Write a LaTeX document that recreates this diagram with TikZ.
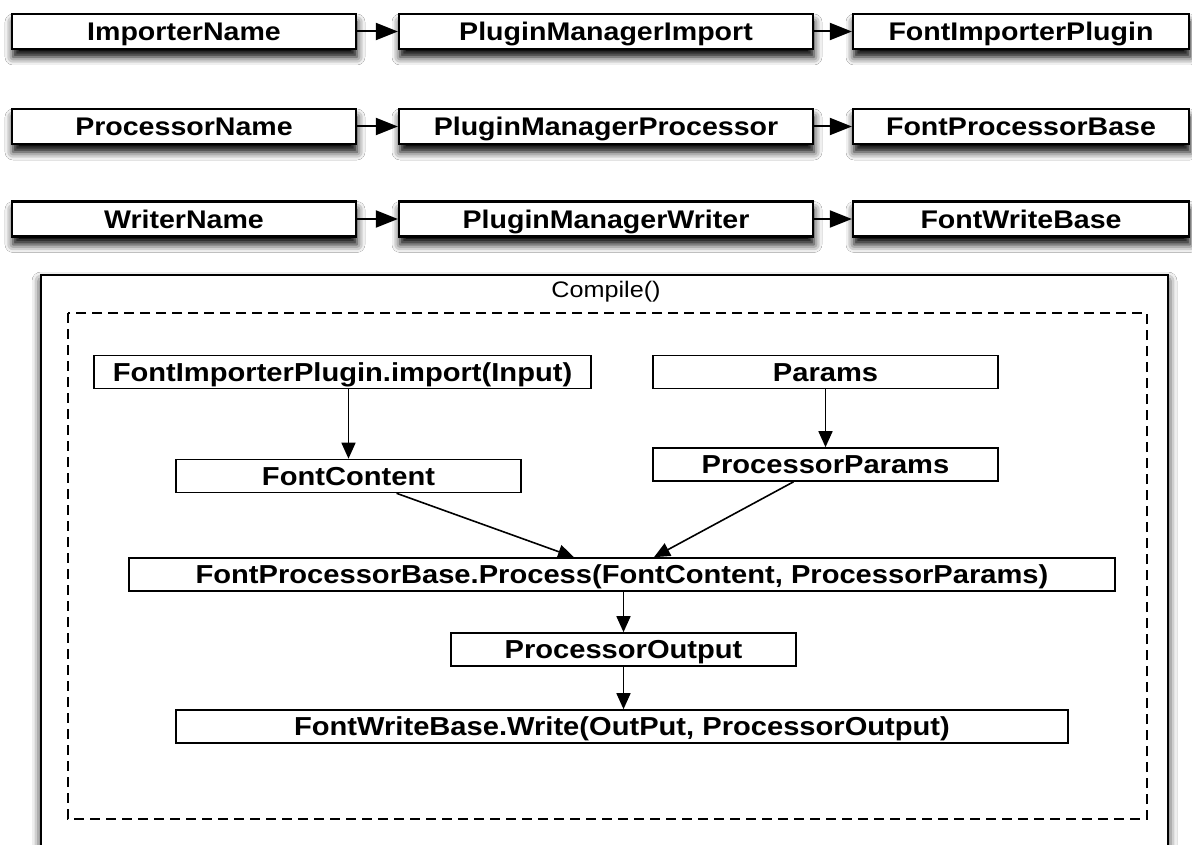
\documentclass[tikz,border=0pt]{standalone}
\usepackage{fontspec}
\setmainfont{Liberation Sans}[FakeStretch=1.12]
\usetikzlibrary{arrows.meta,shadows.blur}
\begin{document}
\begin{tikzpicture}[x=1pt,y=-1pt,
  topbox/.style={draw, line width=2.2pt, fill=white, minimum height=35pt, inner sep=0pt,
    text height=18.4pt, text depth=0pt,
    font=\bfseries\fontsize{25.5}{30}\selectfont,
    blur shadow={shadow xshift=1pt, shadow yshift=-8pt, shadow blur radius=8pt, shadow opacity=100}},
  inbox/.style={draw, line width=1.6pt, fill=white, minimum height=33pt, inner sep=0pt,
    text height=18.6pt, text depth=0pt,
    font=\bfseries\fontsize{26}{30}\selectfont},
  toparrow/.style={line width=2pt, -{Triangle[length=22pt,width=17pt,fill=black]}},
  inarrow/.style={line width=1.6pt, -{Triangle[length=16pt,width=14pt,fill=black]}},
]
\useasboundingbox (0,0) rectangle (1192,845);
\clip (0,0) rectangle (1192,845);
\fill[white] (0,0) rectangle (1192,845);

% outer Compile() frame
\draw[line width=2pt, fill=white, blur shadow={shadow xshift=0pt, shadow yshift=-6pt, shadow blur radius=9pt, shadow opacity=100}] (41,275) rectangle (1168,900);
\node[font=\fontsize{22.5}{26}\selectfont] (title) at (606,292) {Compile()};
\draw[line width=2pt, dash pattern=on 10pt off 6pt] (68,313) rectangle (1147,819);

% top rows
\node[topbox, minimum width=344pt] (in) at (184,31.5) {ImporterName};
\node[topbox, minimum width=414pt] (pmi) at (606,31.5) {PluginManagerImport};
\node[topbox, minimum width=336pt] (fip) at (1021,31.5) {FontImporterPlugin};

\node[topbox, minimum width=344pt] (pn) at (184,126.5) {ProcessorName};
\node[topbox, minimum width=414pt] (pmp) at (606,126.5) {PluginManagerProcessor};
\node[topbox, minimum width=336pt] (fpb) at (1021,126.5) {FontProcessorBase};

\node[topbox, minimum width=344pt] (wn) at (184,219) {WriterName};
\node[topbox, minimum width=414pt] (pmw) at (606,219) {PluginManagerWriter};
\node[topbox, minimum width=336pt] (fwb) at (1021,219) {FontWriteBase};

\draw[toparrow] (in) -- (pmi);
\draw[toparrow] (pmi) -- (fip);
\draw[toparrow] (pn) -- (pmp);
\draw[toparrow] (pmp) -- (fpb);
\draw[toparrow] (wn) -- (pmw);
\draw[toparrow] (pmw) -- (fwb);

% inner flow
\node[inbox, minimum width=497pt] (imp) at (342.5,372) {FontImporterPlugin.import(Input)};
\node[inbox, minimum width=345pt] (par) at (825.5,372) {Params};
\node[inbox, minimum width=345pt] (fc) at (348.5,476) {FontContent};
\node[inbox, minimum width=345pt] (pp) at (825.5,464.5) {ProcessorParams};
\node[inbox, minimum width=986pt] (proc) at (622,574.5) {FontProcessorBase.Process(FontContent, ProcessorParams)};
\node[inbox, minimum width=345pt] (po) at (623.5,649.5) {ProcessorOutput};
\node[inbox, minimum width=892pt] (wr) at (622,726.5) {FontWriteBase.Write(OutPut, ProcessorOutput)};

\draw[inarrow] (imp.south -| fc.north) -- (fc.north);
\draw[inarrow] (par.south) -- (pp.north);
\draw[inarrow] (fc) -- (proc);
\draw[inarrow] (pp) -- (proc);
\draw[inarrow] (proc.south -| po.north) -- (po.north);
\draw[inarrow] (po.south) -- (po.south |- wr.north);
\end{tikzpicture}
\end{document}
